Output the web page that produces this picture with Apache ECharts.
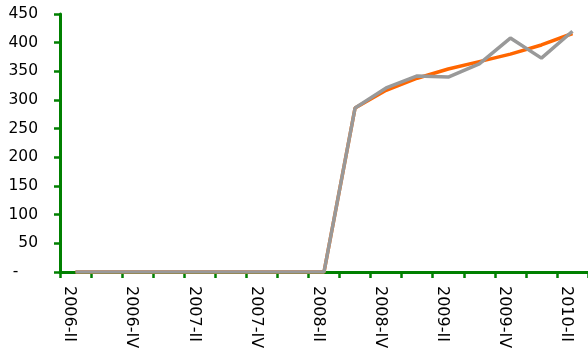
<!DOCTYPE html>
<html><head><meta charset="utf-8">
<script src="https://cdn.jsdelivr.net/npm/echarts@6/dist/echarts.min.js"></script>
<style>html,body{margin:0;padding:0;background:#fff}#c{width:588px;height:355px}</style>
</head><body><div id="c"></div>
<script>
const categories = ['2006-II','2006-III','2006-IV','2007-I','2007-II','2007-III','2007-IV','2008-I','2008-II','2008-III','2008-IV','2009-I','2009-II','2009-III','2009-IV','2010-I','2010-II'];
const trendValues = [0,0,0,0,0,0,0,0,0,286,317,338,354,367,380,396,416];
const actualValues = [0,0,0,0,0,0,0,0,0,286,321,342,340,363,408,373,420];
const yMin = 0, yMax = 450, yStep = 50;

const chart = echarts.init(document.getElementById('c'), null, {renderer:'canvas'});
const green = '#008000';
chart.setOption({
  animation:false,
  backgroundColor:'#ffffff',
  grid:{left:60,right:0,top:14,bottom:83,containLabel:false},
  xAxis:{type:'category',data:categories,boundaryGap:true,
    axisLine:{lineStyle:{color:green,width:3}},
    axisTick:{show:true,length:6,inside:false,interval:0,lineStyle:{color:green,width:2.5}},
    axisLabel:{interval:1,rotate:-90,margin:14,color:'#000',fontFamily:'DejaVu Sans',fontSize:16,verticalAlign:'top',lineHeight:12}},
  yAxis:{type:'value',min:yMin,max:yMax,interval:yStep,
    splitLine:{show:false},
    axisLine:{show:true,lineStyle:{color:green,width:3}},
    axisTick:{show:true,length:6,lineStyle:{color:green,width:2.5}},
    axisLabel:{margin:22,color:'#000',fontFamily:'DejaVu Sans',fontSize:15.5,
      formatter:v=>v===0?'-    ':String(v)}},
  series:[
    {type:'line',data:trendValues,symbol:'none',lineStyle:{color:'#FF6600',width:3.5},z:2},
    {type:'line',data:actualValues,symbol:'none',lineStyle:{color:'#999999',width:3.5},z:3}
  ]
});
</script></body></html>
